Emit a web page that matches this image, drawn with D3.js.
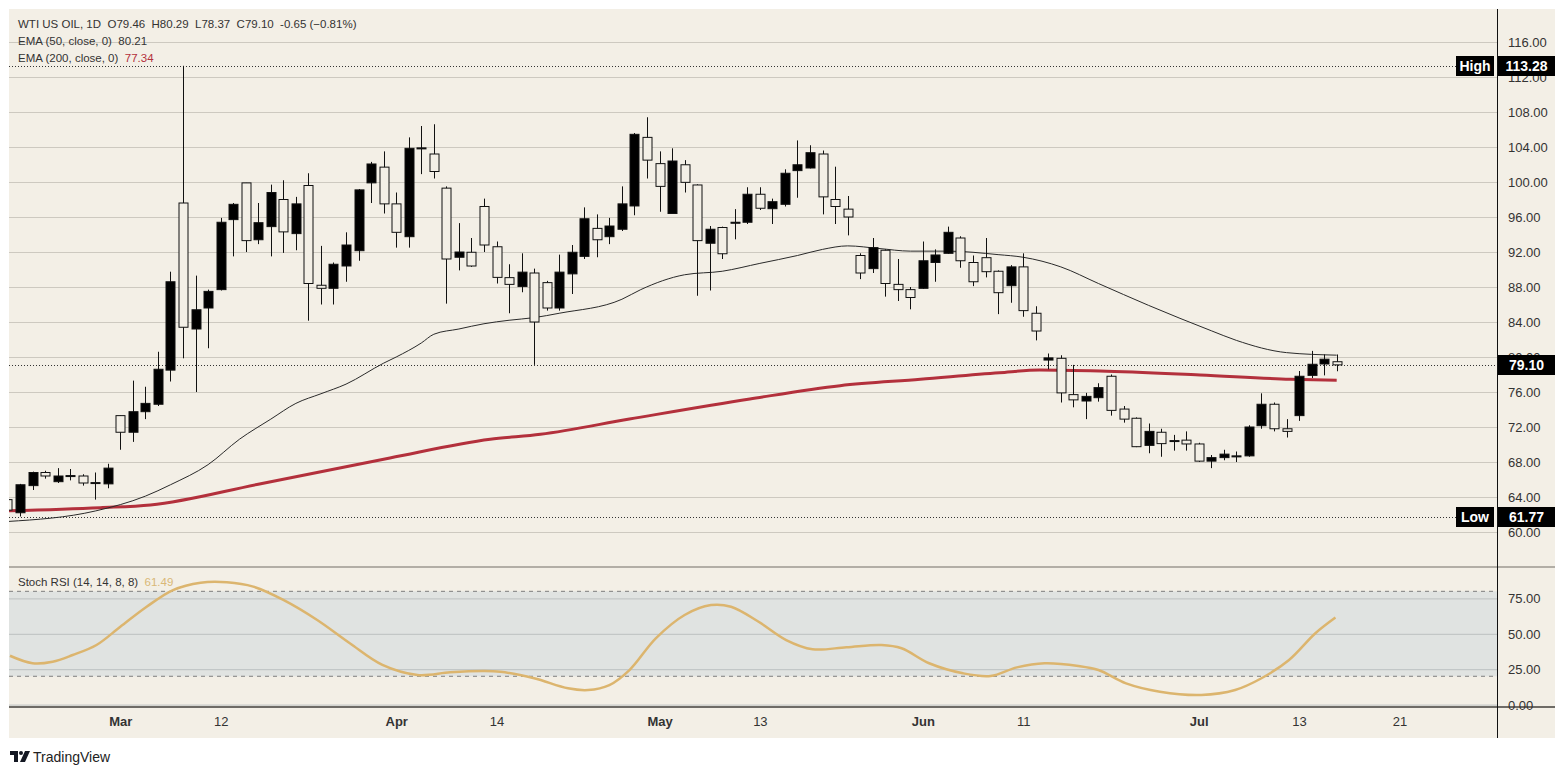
<!DOCTYPE html>
<html>
<head>
<meta charset="utf-8">
<script src="https://cdn.jsdelivr.net/npm/d3@7"></script>
<style>
    body { margin: 0; background: #ffffff; }
    svg text { font-family: "Liberation Sans", Arial, sans-serif; }
</style>
</head>
<body>
<svg id="chart" width="1568" height="774"></svg>
<script>
// daily candles, first one sits at index -1 (cut by the left edge)
var firstIndex = -1;
var opens = [63.7, 62.2, 65.3, 66.8, 65.75, 66.4, 66.4, 65.65, 65.5, 73.3, 71.4, 73.75, 74.6, 78.5, 97.6, 83.2, 85.6, 87.7, 95.7,
    99.9, 93.4, 94.9, 98.0, 94.1, 99.6, 88.2, 87.85, 90.4, 92.15, 99.9, 101.7, 97.5, 93.75, 103.85, 103.2, 99.3, 91.4, 91.97, 97.2,
    92.6, 89.07, 88.05, 89.6, 88.5, 85.6, 89.5, 91.5, 94.7, 93.75, 94.6, 97.26, 105.1, 102.1, 96.4, 101.97, 99.66, 93.0, 94.8, 95.35,
    95.4, 98.6, 96.95, 97.45, 101.3, 101.6, 103.2, 98.0, 96.9, 91.6, 90.1, 92.2, 88.3, 87.7, 87.85, 90.8, 91.85, 93.6, 90.8, 91.35,
    89.8, 88.15, 90.3, 85.0, 79.65, 79.85, 75.7, 74.97, 75.35, 77.8, 74.05, 73.0, 69.9, 71.4, 70.45, 70.5, 70.06, 68.1, 68.5, 68.65,
    68.7, 72.15, 74.6, 71.8, 73.3, 77.9, 79.2, 79.46];
var highs = [63.9, 65.5, 66.9, 67.0, 67.3, 67.2, 66.6, 66.8, 67.8, 73.3, 77.3, 76.6, 80.6, 89.75, 113.28, 89.3, 87.7, 95.9, 97.6,
    99.9, 97.6, 99.7, 100.2, 98.3, 101.0, 92.7, 90.8, 94.25, 99.2, 102.3, 103.5, 98.8, 105.1, 106.4, 106.6, 99.5, 95.3, 93.6, 98.1,
    93.2, 90.6, 91.85, 90.1, 88.7, 91.7, 92.8, 97.1, 96.3, 95.9, 99.5, 105.6, 107.4, 103.5, 103.85, 102.5, 99.74, 94.97, 94.9, 96.9,
    99.4, 99.4, 98.1, 101.45, 104.75, 104.2, 103.6, 101.75, 98.4, 91.85, 93.6, 92.3, 91.2, 88.0, 93.2, 92.3, 94.9, 93.8, 91.6, 93.6,
    89.9, 90.5, 91.85, 85.8, 80.4, 80.2, 79.1, 75.9, 77.0, 78.0, 74.4, 73.1, 72.4, 71.8, 71.1, 71.5, 70.2, 68.8, 69.4, 69.2,
    72.2, 75.85, 74.8, 72.9, 78.4, 80.7, 80.3, 80.29];
var lows = [62.3, 61.77, 64.8, 66.1, 65.6, 65.9, 65.3, 63.7, 65.0, 69.4, 70.3, 72.9, 74.4, 77.2, 79.85, 76.0, 81.0, 87.6, 91.5,
    92.0, 92.9, 91.5, 91.9, 92.2, 84.15, 86.0, 86.0, 88.6, 91.0, 97.6, 96.4, 92.5, 92.5, 100.9, 100.4, 86.1, 89.9, 90.3, 92.0,
    88.4, 85.0, 87.4, 79.1, 85.3, 85.3, 87.2, 91.2, 91.4, 92.9, 94.4, 96.2, 100.4, 96.6, 96.4, 98.8, 87.0, 87.6, 91.2, 93.45,
    95.2, 96.8, 95.2, 97.2, 98.2, 101.55, 96.3, 95.2, 93.9, 88.9, 89.6, 86.9, 86.4, 85.45, 87.8, 88.6, 91.8, 90.2, 88.1, 89.1,
    84.9, 86.2, 84.6, 81.9, 78.6, 74.8, 74.25, 72.9, 74.9, 73.3, 72.5, 69.7, 69.0, 68.6, 69.3, 69.3, 68.0, 67.3, 68.2, 68.0,
    68.6, 71.8, 71.5, 70.8, 72.7, 77.6, 77.9, 78.37];
var closes = [62.5, 65.4, 66.8, 66.4, 66.4, 66.45, 65.6, 65.6, 67.3, 71.4, 73.75, 74.7, 78.6, 88.6, 83.4, 85.4, 87.5, 95.4, 97.45,
    93.3, 95.35, 98.8, 94.3, 97.5, 88.4, 87.85, 90.6, 92.8, 99.1, 102.06, 97.5, 94.25, 103.85, 103.9, 101.2, 91.2, 92.0, 90.4, 92.8,
    89.1, 88.3, 89.7, 84.0, 85.6, 89.7, 91.97, 95.8, 93.4, 94.97, 97.5, 105.45, 102.5, 99.5, 102.4, 99.96, 93.3, 94.6, 91.8, 95.4,
    98.6, 97.0, 97.75, 101.0, 101.97, 103.35, 98.3, 97.2, 96.0, 89.6, 92.5, 88.4, 87.7, 86.8, 91.0, 91.66, 94.25, 91.0, 88.6, 89.75,
    87.35, 90.3, 85.3, 82.97, 79.9, 75.9, 75.1, 75.5, 76.5, 73.9, 72.9, 69.75, 71.5, 70.1, 70.4, 70.06, 68.1, 68.5, 68.9, 68.7,
    72.0, 74.6, 71.8, 71.5, 77.8, 79.17, 79.75, 79.10];

// EMA lines as (bar index, value)
var ema50Idx = [-1, 6, 10, 12, 15, 17.5, 20, 22, 24, 26, 29, 30, 32, 33, 35, 37, 39, 41, 43, 48, 49.5, 53, 56, 59, 62, 64, 66,
    68.5, 71, 74, 78, 80, 83, 86, 90, 95, 97, 101, 105];
var ema50Val = [61.2, 62.4, 64.1, 65.4, 67.7, 70.6, 72.9, 74.7, 75.8, 76.9, 79.3, 80.0, 81.6, 82.6, 83.2, 83.8, 84.2, 84.5, 85.0,
    86.6, 87.7, 89.4, 89.8, 90.7, 91.6, 92.3, 92.7, 92.4, 92.1, 92.1, 91.7, 91.4, 90.3, 88.4, 85.9, 83.0, 81.9, 80.5, 80.21];
var ema200Idx = [-1.6, 6.4, 10.4, 19.1, 29.5, 37.5, 41.5, 48.6, 58.2, 65.4, 71.8, 78.1, 81.3, 86.1, 94.1, 101.3, 105];
var ema200Val = [62.4, 62.78, 63.09, 65.49, 68.46, 70.59, 71.17, 72.91, 75.2, 76.72, 77.45, 78.2, 78.51, 78.4, 77.94, 77.45, 77.34];

// Stoch RSI line
var stochIdx = [-0.8, 1.0, 2.6, 4.2, 6.1, 8.0, 10.1, 12.2, 14.4, 16.5, 18.6, 21.0, 23.7, 26.3, 28.9, 31.7, 34.3, 36.9, 38.3, 41.0,
    43.7, 45.3, 47.0, 48.6, 50.7, 53.0, 55.1, 56.7, 58.9, 61.1, 63.2, 65.9, 68.7, 70.3, 72.5, 75.2, 77.4, 79.5, 81.7, 84.4, 86.0,
    88.2, 90.9, 94.2, 96.9, 99.0, 101.2, 103.3, 104.9];
var stochVal = [34.5, 29.2, 30.3, 35.0, 42.1, 55.0, 69.1, 80.9, 86.1, 86.4, 83.3, 73.9, 59.7, 43.3, 28.0, 20.9, 22.8, 23.7, 23.2, 18.6,
    11.5, 10.3, 13.8, 24.4, 46.8, 63.3, 70.3, 69.1, 58.5, 45.6, 39.1, 40.5, 42.1, 39.8, 29.2, 22.1, 20.2, 26.3, 29.2, 27.3, 24.4,
    15.0, 9.1, 6.8, 10.3, 18.6, 31.5, 50.4, 61.5];

var priceTicks = [60, 64, 68, 72, 76, 80, 84, 88, 92, 96, 100, 104, 108, 112, 116];
var rsiTicks = [0, 25, 50, 75];
var timeTickIdx = [8, 16, 30, 38, 51, 59, 72, 80, 94, 102, 110];
var timeTickLabels = ["Mar", "12", "Apr", "14", "May", "13", "Jun", "11", "Jul", "13", "21"];
var monthLabels = ["Mar", "Apr", "May", "Jun", "Jul"];

var highValue = 113.28, lowValue = 61.77, lastValue = 79.10;

var bg = "#f3efe6";
var leftX = 9, axisX = 1497, outerRight = 1555, topY = 9,
    paneBottom = 567, rsiBottom = 707, bottomY = 738;

var svg = d3.select("#chart");

var candles = closes.map(function (c, k) {
    return { i: k + firstIndex, o: opens[k], h: highs[k], l: lows[k], c: c };
});

// scales
var x = d3.scaleLinear().domain([0, 105]).range([20, 20 + 12.54 * 105]);
var y = d3.scaleLinear().domain([60, 116]).range([532, 42]);
var yr = d3.scaleLinear().domain([0, 75]).range([704.6, 598.4]);

// background
svg.append("rect").attr("x", leftX).attr("y", topY)
    .attr("width", outerRight - leftX).attr("height", bottomY - topY).attr("fill", bg);

var defs = svg.append("defs");
defs.append("clipPath").attr("id", "clipMain").append("rect")
    .attr("x", leftX).attr("y", topY).attr("width", axisX - leftX).attr("height", paneBottom - topY);
defs.append("clipPath").attr("id", "clipRsi").append("rect")
    .attr("x", leftX).attr("y", paneBottom).attr("width", axisX - leftX).attr("height", rsiBottom - paneBottom);

// price grid
svg.append("g")
    .attr("transform", "translate(" + leftX + ",0)")
    .call(d3.axisRight(y).tickValues(priceTicks).tickSize(axisX - leftX).tickFormat(""))
    .call(function (g) { g.select(".domain").remove(); })
    .selectAll("line").attr("stroke", "#cdc9c0").attr("stroke-width", 1);

// rsi pane band + grid
svg.append("rect").attr("x", leftX).attr("width", axisX - leftX)
    .attr("y", yr(80)).attr("height", yr(20) - yr(80)).attr("fill", "#e0e3e1");
svg.append("g")
    .attr("transform", "translate(" + leftX + ",0)")
    .call(d3.axisRight(yr).tickValues(rsiTicks).tickSize(axisX - leftX).tickFormat(""))
    .call(function (g) { g.select(".domain").remove(); })
    .selectAll("line").attr("stroke", "#bcc0c0").attr("stroke-width", 1);
[80, 20].forEach(function (v) {
    svg.append("line").attr("x1", leftX).attr("x2", axisX)
        .attr("y1", yr(v)).attr("y2", yr(v))
        .attr("stroke", "#7d7d7d").attr("stroke-dasharray", "4,4");
});

// pane separators
svg.append("line").attr("x1", leftX).attr("x2", outerRight).attr("y1", paneBottom).attr("y2", paneBottom)
    .attr("stroke", "#9c9890").attr("stroke-width", 1.5);
svg.append("line").attr("x1", leftX).attr("x2", outerRight).attr("y1", rsiBottom).attr("y2", rsiBottom)
    .attr("stroke", "#6e6b66").attr("stroke-width", 2);

// dotted high / low / last lines
var dotted = [[highValue, 1456], [lowValue, 1456], [lastValue, axisX]];
dotted.forEach(function (d) {
    svg.append("line").attr("x1", leftX).attr("x2", d[1])
        .attr("y1", Math.round(y(d[0])) + 0.5).attr("y2", Math.round(y(d[0])) + 0.5)
        .attr("stroke", "#333").attr("stroke-width", 1).attr("stroke-dasharray", "1,2");
});

var main = svg.append("g").attr("clip-path", "url(#clipMain)");

// EMA 200
main.append("path")
    .datum(ema200Idx.map(function (d, k) { return [d, ema200Val[k]]; }))
    .attr("fill", "none").attr("stroke", "#b3303c").attr("stroke-width", 3)
    .attr("d", d3.line().x(function (d) { return x(d[0]); }).y(function (d) { return y(d[1]); }).curve(d3.curveMonotoneX));

// EMA 50
main.append("path")
    .datum(ema50Idx.map(function (d, k) { return [d, ema50Val[k]]; }))
    .attr("fill", "none").attr("stroke", "#2a2a2a").attr("stroke-width", 1)
    .attr("d", d3.line().x(function (d) { return x(d[0]); }).y(function (d) { return y(d[1]); }).curve(d3.curveMonotoneX));

// candles: black = up, hollow = down
var bw = 9;
var cg = main.selectAll("g.candle").data(candles).join("g").attr("class", "candle");
cg.append("line")
    .attr("x1", function (d) { return Math.round(x(d.i)) + 0.5; })
    .attr("x2", function (d) { return Math.round(x(d.i)) + 0.5; })
    .attr("y1", function (d) { return y(d.h); })
    .attr("y2", function (d) { return y(d.l); })
    .attr("stroke", "#111").attr("stroke-width", 1);
cg.append("rect")
    .attr("x", function (d) { return Math.round(x(d.i)) - 4; })
    .attr("y", function (d) { return y(Math.max(d.o, d.c)); })
    .attr("width", bw)
    .attr("height", function (d) { return Math.max(1, Math.abs(y(d.o) - y(d.c))); })
    .attr("fill", function (d) { return d.c >= d.o ? "#000" : bg; })
    .attr("stroke", "#111").attr("stroke-width", 1);

// stoch rsi
svg.append("g").attr("clip-path", "url(#clipRsi)").append("path")
    .datum(stochIdx.map(function (d, k) { return [d, stochVal[k]]; }))
    .attr("fill", "none").attr("stroke", "#dcb56e").attr("stroke-width", 2.5)
    .attr("d", d3.line().x(function (d) { return x(d[0]); }).y(function (d) { return yr(d[1]); }).curve(d3.curveCatmullRom));

// right axis line
svg.append("line").attr("x1", axisX + 0.5).attr("x2", axisX + 0.5).attr("y1", topY).attr("y2", bottomY)
    .attr("stroke", "#111").attr("stroke-width", 1);

// price axis labels
function styleAxis(g) {
    g.select(".domain").remove();
    g.selectAll("line").remove();
    g.selectAll("text").attr("fill", "#333").style("font-size", "13px").attr("x", 11).attr("dy", "0.35em");
}
svg.append("g").attr("transform", "translate(" + axisX + ",0)")
    .call(d3.axisRight(y).tickValues(priceTicks).tickFormat(d3.format(".2f")))
    .call(styleAxis);
svg.append("g").attr("transform", "translate(" + axisX + ",0)")
    .call(d3.axisRight(yr).tickValues(rsiTicks).tickFormat(d3.format(".2f")))
    .call(styleAxis);

// time axis
var tg = svg.append("g").attr("transform", "translate(0," + rsiBottom + ")")
    .call(d3.axisBottom(x).tickValues(timeTickIdx).tickFormat(function (d, k) { return timeTickLabels[k]; }));
tg.select(".domain").remove();
tg.selectAll("line").remove();
tg.selectAll("text")
    .attr("y", 19).attr("dy", 0)
    .style("font-size", "13px")
    .attr("fill", "#333")
    .style("font-weight", function (d, k) { return monthLabels.indexOf(timeTickLabels[k]) >= 0 ? "bold" : "normal"; });

// price tags on the axis
function tag(xl, w, val, txt) {
    var yc = Math.round(y(val));
    svg.append("rect").attr("x", xl).attr("y", yc - 10).attr("width", w).attr("height", 20).attr("fill", "#000");
    svg.append("text").attr("x", xl + w / 2).attr("y", yc + 5).attr("text-anchor", "middle")
        .attr("fill", "#fff").style("font-size", "14px").style("font-weight", "bold").text(txt);
}
tag(1456, 38, highValue, "High");
tag(axisX + 1, 57, highValue, "113.28");
tag(1456, 38, lowValue, "Low");
tag(axisX + 1, 57, lowValue, "61.77");
tag(axisX + 1, 57, lastValue, "79.10");

// legends
var leg = svg.append("g").style("font-size", "11.5px").attr("fill", "#333");
leg.append("text").attr("x", 18).attr("y", 28).style("white-space", "pre")
    .text("WTI US OIL, 1D  O79.46  H80.29  L78.37  C79.10  -0.65 (\u22120.81%)");
var l2 = leg.append("text").attr("x", 18).attr("y", 45).style("white-space", "pre");
l2.append("tspan").text("EMA (50, close, 0)  ");
l2.append("tspan").text("80.21");
var l3 = leg.append("text").attr("x", 18).attr("y", 62).style("white-space", "pre");
l3.append("tspan").text("EMA (200, close, 0)  ");
l3.append("tspan").attr("fill", "#b3303c").text("77.34");
var l4 = leg.append("text").attr("x", 18).attr("y", 586).style("white-space", "pre");
l4.append("tspan").text("Stoch RSI (14, 14, 8, 8)  ");
l4.append("tspan").attr("fill", "#d9b877").text("61.49");

// TradingView mark
var logo = svg.append("g").attr("transform", "translate(10,751)");
logo.append("path").attr("d", "M0 0h8v11h-4v-7h-4z").attr("fill", "#131722");
logo.append("circle").attr("cx", 11).attr("cy", 2).attr("r", 2).attr("fill", "#131722");
logo.append("path").attr("d", "M15 0h5l-5 11h-5z").attr("fill", "#131722");
svg.append("text").attr("x", 33).attr("y", 762).style("font-size", "14px").attr("fill", "#222").text("TradingView");
</script>
</body>
</html>
